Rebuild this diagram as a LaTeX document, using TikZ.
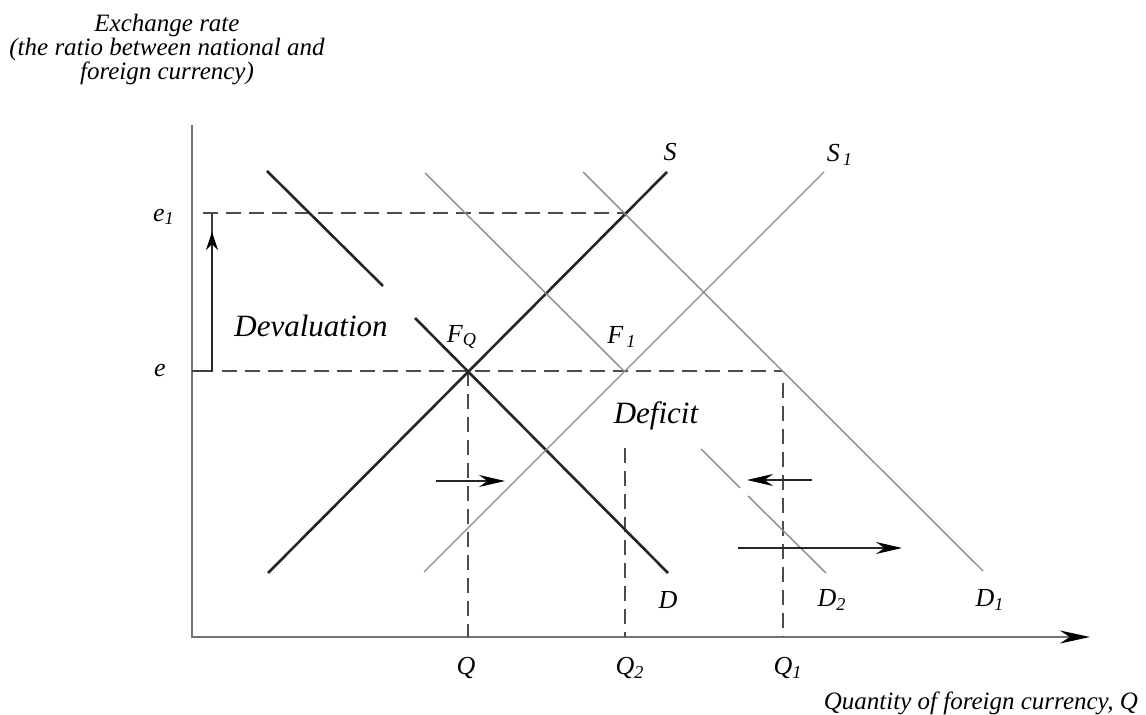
\documentclass[tikz,border=0pt]{standalone}
\usepackage{fontspec}
\setmainfont{Liberation Serif}
\usetikzlibrary{arrows.meta}

\begin{document}
\begin{tikzpicture}[x=0.5pt,y=-0.5pt,
  axis/.style={line width=1pt,black!55},
  curve/.style={line width=1.3pt,black!85},
  moved/.style={line width=0.7pt,black!45},
  guide/.style={line width=0.7pt,black!70,dash pattern=on 7.5pt off 4pt},
  push/.style={line width=0.7pt,black!85,-{Stealth[length=13pt,width=6pt,color=black]}},
  lbl/.style={font=\itshape\fontsize{13}{15}\selectfont},
  big/.style={font=\itshape\fontsize{15.5}{18}\selectfont},
  title/.style={font=\itshape\fontsize{12.5}{12}\selectfont}]
  \useasboundingbox (0,0) rectangle (1146,715);
  % axes
  \coordinate (O) at (192,637);
  \coordinate (Ytop) at (192,125);
  \coordinate (Xend) at (1090,637);
  \draw[axis,-{Stealth[length=15pt,width=6.5pt,color=black]}] (Ytop) -- (O) -- (Xend);
  % equilibrium points
  \coordinate (FQ) at (468,371);
  \coordinate (F1) at (624,371);
  \coordinate (G1) at (626,213);
  \coordinate (G2) at (783,371);
  % dashed guides
  \draw[guide] (203,213) -- (G1);
  \draw[guide] (222,371) -- (G2);
  \draw[guide] (FQ) -- (468,637);
  \draw[guide] (625,448) -- (625,637);
  \draw[guide] (783,383) -- (783,637);
  % devaluation arrow
  \coordinate (eFoot) at (212,371);
  \coordinate (eTop) at (212,213);
  \draw[line width=0.7pt,black!75] (O|-eFoot) -- (eFoot) -- (eTop);
  \draw[line width=0.7pt,black!85,-{Stealth[length=9pt,width=6pt,color=black]}] (eFoot) -- (212,232);
  % demand D (thick)
  \draw[curve] (267,171) -- (383,286);
  \draw[curve] (415,318) -- (668,573);
  % supply S (thick)
  \draw[curve] (268,573) -- (667,172);
  % shifted curves
  \draw[moved] (424,572) -- (824,172);
  \draw[moved] (425,173) -- (F1);
  \draw[moved] (701,449) -- (740,488);
  \draw[moved] (748,496) -- (826,573);
  \draw[moved] (583,172) -- (983,571);
  % small arrows
  \draw[push] (436,481) -- (505,481);
  \draw[push] (812,480) -- (747,480);
  \draw[push] (738,548) -- (902,548);
  % labels
  \node[lbl] (lS) at (670,152) {S};
  \node[lbl] (lS1) at (840,155) {S\textsubscript{\,1}};
  \node[lbl] (le1) at (164,217) {e\textsubscript{1}};
  \node[lbl] (le) at (160,371) {e};
  \node[lbl] (lFQ) at (462,337) {F\textsubscript{Q}};
  \node[lbl] (lF1) at (622,337) {F\textsubscript{\,1}};
  \node[big,anchor=base] (dev) at (311,337) {Devaluation};
  \node[big,anchor=base] (def) at (656,424) {Deficit};
  \node[lbl] (lD) at (668,600) {D};
  \node[lbl] (lD2) at (832,600) {D\textsubscript{2}};
  \node[lbl] (lD1) at (990,600) {D\textsubscript{1}};
  \node[lbl] (lQ) at (466,668) {Q};
  \node[lbl] (lQ2) at (630,668) {Q\textsubscript{2}};
  \node[lbl] (lQ1) at (788,668) {Q\textsubscript{1}};
  \node[title,align=center] (ytitle) at (167,50) {Exchange rate\\(the ratio between national and\\foreign currency)};
  \node[title,anchor=east] (xtitle) at (1145,703) {Quantity of foreign currency, Q};
\end{tikzpicture}
\end{document}
